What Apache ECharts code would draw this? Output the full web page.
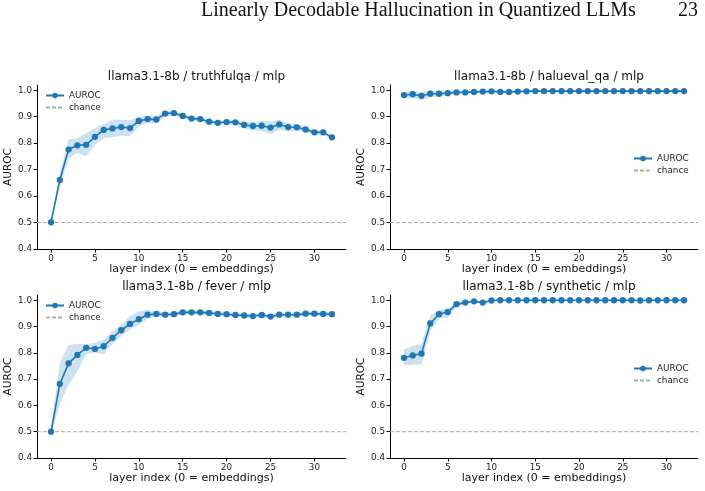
<!DOCTYPE html>
<html>
<head>
<meta charset="utf-8">
<script src="https://cdn.jsdelivr.net/npm/echarts@6/dist/echarts.min.js"></script>
<style>
  html, body { margin: 0; padding: 0; background: #fff; }
  #chart { width: 705px; height: 491px; }
</style>
</head>
<body>
<div id="chart"></div>
<script>
// layer index, 0 = embeddings
var layers = [0, 1, 2, 3, 4, 5, 6, 7, 8, 9, 10, 11, 12, 13, 14, 15, 16, 17, 18, 19, 20,
  21, 22, 23, 24, 25, 26, 27, 28, 29, 30, 31, 32]
var xTicks = [0, 5, 10, 15, 20, 25, 30]
var yTicks = [0.4, 0.5, 0.6, 0.7, 0.8, 0.9, 1.0]
var chanceLevel = 0.5

// truthfulqa
var tqaMean = [0.501, 0.661, 0.776, 0.792, 0.794, 0.824, 0.850, 0.856, 0.861, 0.857, 0.884, 0.891, 0.890,
  0.912, 0.914, 0.903, 0.893, 0.891, 0.881, 0.877, 0.880, 0.879, 0.869, 0.865, 0.866, 0.859, 0.871,
  0.861, 0.860, 0.852, 0.841, 0.841, 0.822]
var tqaHi = [0.505, 0.685, 0.815, 0.819, 0.838, 0.857, 0.872, 0.889, 0.889, 0.887, 0.901, 0.903, 0.903,
  0.922, 0.922, 0.911, 0.901, 0.899, 0.889, 0.885, 0.888, 0.889, 0.882, 0.880, 0.884, 0.882, 0.889,
  0.876, 0.872, 0.862, 0.849, 0.849, 0.828]
var tqaLo = [0.495, 0.637, 0.742, 0.763, 0.751, 0.794, 0.819, 0.822, 0.828, 0.827, 0.864, 0.876, 0.876,
  0.899, 0.905, 0.895, 0.885, 0.883, 0.873, 0.869, 0.872, 0.869, 0.856, 0.850, 0.846, 0.834, 0.851,
  0.846, 0.848, 0.842, 0.833, 0.833, 0.816]

// halueval_qa
var heMean = [0.982, 0.985, 0.979, 0.987, 0.987, 0.989, 0.992, 0.992, 0.994, 0.995, 0.996, 0.994, 0.994,
  0.995, 0.996, 0.997, 0.997, 0.997, 0.997, 0.997, 0.997, 0.997, 0.997, 0.997, 0.997, 0.997, 0.997,
  0.997, 0.997, 0.997, 0.997, 0.997, 0.997]
var heHi = [0.994, 0.997, 0.993, 0.999, 0.998, 0.997, 0.996, 0.995, 0.996, 0.997, 0.998, 0.996, 0.996,
  0.997, 0.998, 0.998, 0.998, 0.998, 0.998, 0.998, 0.998, 0.998, 0.998, 0.998, 0.998, 0.998, 0.998,
  0.998, 0.998, 0.998, 0.998, 0.998, 0.998]
var heLo = [0.968, 0.972, 0.963, 0.974, 0.976, 0.981, 0.988, 0.989, 0.992, 0.993, 0.994, 0.992, 0.992,
  0.993, 0.994, 0.996, 0.996, 0.996, 0.996, 0.996, 0.996, 0.996, 0.996, 0.996, 0.996, 0.996, 0.996,
  0.996, 0.996, 0.996, 0.996, 0.996, 0.996]

// fever
var fevMean = [0.500, 0.682, 0.760, 0.792, 0.819, 0.815, 0.825, 0.857, 0.886, 0.910, 0.928, 0.945, 0.948,
  0.945, 0.947, 0.954, 0.954, 0.954, 0.952, 0.948, 0.947, 0.944, 0.942, 0.940, 0.944, 0.938, 0.945,
  0.945, 0.945, 0.949, 0.949, 0.948, 0.947]
var fevHi = [0.512, 0.762, 0.831, 0.834, 0.834, 0.838, 0.850, 0.882, 0.907, 0.939, 0.958, 0.964, 0.958,
  0.954, 0.956, 0.962, 0.961, 0.961, 0.960, 0.956, 0.955, 0.952, 0.950, 0.948, 0.952, 0.947, 0.953,
  0.953, 0.953, 0.957, 0.957, 0.956, 0.955]
var fevLo = [0.488, 0.605, 0.680, 0.730, 0.795, 0.800, 0.795, 0.834, 0.863, 0.888, 0.907, 0.930, 0.938,
  0.936, 0.938, 0.946, 0.947, 0.947, 0.944, 0.940, 0.939, 0.936, 0.934, 0.932, 0.936, 0.929, 0.937,
  0.937, 0.937, 0.941, 0.941, 0.940, 0.939]

// synthetic
var synMean = [0.781, 0.790, 0.797, 0.912, 0.947, 0.955, 0.985, 0.991, 0.996, 0.991, 0.999, 1.000, 1.000,
  1.000, 1.000, 1.000, 1.000, 1.000, 1.000, 1.000, 1.000, 1.000, 1.000, 1.000, 1.000, 1.000, 1.000,
  0.999, 1.000, 1.000, 1.000, 1.000, 1.000]
var synHi = [0.813, 0.827, 0.833, 0.942, 0.963, 0.970, 0.991, 0.996, 0.999, 0.996, 1.000, 1.000, 1.000,
  1.000, 1.000, 1.000, 1.000, 1.000, 1.000, 1.000, 1.000, 1.000, 1.000, 1.000, 1.000, 1.000, 1.000,
  1.000, 1.000, 1.000, 1.000, 1.000, 1.000]
var synLo = [0.753, 0.755, 0.757, 0.881, 0.932, 0.934, 0.976, 0.986, 0.993, 0.986, 0.998, 0.999, 0.999,
  0.999, 0.999, 0.999, 0.999, 0.999, 0.999, 0.999, 0.999, 0.999, 0.999, 0.999, 0.999, 0.999, 0.999,
  0.998, 0.999, 0.999, 0.999, 0.999, 0.999]

var panelTitles = ['llama3.1-8b / truthfulqa / mlp', 'llama3.1-8b / halueval_qa / mlp',
  'llama3.1-8b / fever / mlp', 'llama3.1-8b / synthetic / mlp']
var means = [tqaMean, heMean, fevMean, synMean]
var his = [tqaHi, heHi, fevHi, synHi]
var los = [tqaLo, heLo, fevLo, synLo]

var font = 'DejaVu Sans'
var blue = '#1f77b4'

// axes boxes, matplotlib-like 2x2 layout
var grids = [
  {left: 37, top: 85, width: 309, height: 164},
  {left: 390, top: 85, width: 308, height: 164},
  {left: 37, top: 295, width: 309, height: 163},
  {left: 390, top: 295, width: 308, height: 163}
]
var legendPos = [
  {left: 45, top: 91},
  {left: 633, top: 154},
  {left: 45, top: 301},
  {left: 633, top: 364}
]

var xAxes = [], yAxes = [], titles = [], legends = [], series = []

grids.forEach(function (g, i) {
  xAxes.push({
    type: 'value', gridIndex: i, min: -1.6, max: 33.6,
    axisLine: {show: true, onZero: false, lineStyle: {color: '#000', width: 1}},
    axisTick: {show: true, length: 3.5, customValues: xTicks, lineStyle: {color: '#000'}},
    axisLabel: {customValues: xTicks, fontSize: 8.8, color: '#222', margin: 5, fontFamily: font},
    splitLine: {show: false},
    name: 'layer index (0 = embeddings)', nameLocation: 'middle', nameGap: 13,
    nameTextStyle: {fontSize: 11, color: '#111', fontFamily: font}
  })
  yAxes.push({
    type: 'value', gridIndex: i, min: 0.4, max: 1.02,
    axisLine: {show: true, onZero: false, lineStyle: {color: '#000', width: 1}},
    axisTick: {show: true, length: 3.5, customValues: yTicks, lineStyle: {color: '#000'}},
    axisLabel: {
      customValues: yTicks, fontSize: 8.8, color: '#222', margin: 5, fontFamily: font,
      formatter: function (v) { return v.toFixed(1) }
    },
    splitLine: {show: false},
    name: 'AUROC', nameLocation: 'middle', nameGap: 22,
    nameTextStyle: {fontSize: 10.5, color: '#111', fontFamily: font}
  })
  titles.push({
    text: panelTitles[i], left: g.left + g.width / 2, top: g.top - 19, textAlign: 'center',
    textStyle: {fontSize: 12, fontWeight: 'normal', color: '#111', fontFamily: font}
  })
  legends.push({
    left: legendPos[i].left, top: legendPos[i].top, orient: 'vertical', padding: 0,
    itemGap: 3, itemWidth: 18, itemHeight: 7,
    data: [{name: 'AUROC'}, {name: 'chance', itemStyle: {opacity: 0}}],
    selectedMode: false, textStyle: {fontSize: 8.8, color: '#222', fontFamily: font}
  })

  // std band
  var lo = los[i], hi = his[i]
  series.push({
    type: 'custom', name: 'band' + i, xAxisIndex: i, yAxisIndex: i, silent: true, z: 1,
    data: layers.map(function (x, k) { return [x, lo[k], hi[k]] }),
    encode: {x: 0, y: [1, 2]},
    renderItem: function (params, api) {
      if (params.dataIndex !== 0) return null
      var top = [], bot = []
      for (var k = 0; k < layers.length; k++) {
        top.push(api.coord([layers[k], hi[k]]))
        bot.unshift(api.coord([layers[k], lo[k]]))
      }
      return {type: 'polygon', shape: {points: top.concat(bot)}, style: {fill: 'rgba(31,119,180,0.22)'}}
    }
  })
  series.push({
    type: 'line', name: 'chance', xAxisIndex: i, yAxisIndex: i, z: 2,
    data: [[-1.6, chanceLevel], [33.6, chanceLevel]],
    symbol: 'none', silent: true,
    lineStyle: {color: '#aaaaaa', width: 1, type: [4, 2]},
    itemStyle: {color: '#aaaaaa', opacity: 0}
  })
  series.push({
    type: 'line', name: 'AUROC', xAxisIndex: i, yAxisIndex: i, z: 3,
    data: layers.map(function (x, k) { return [x, means[i][k]] }),
    symbol: 'circle', symbolSize: 6.3, showAllSymbol: true,
    lineStyle: {color: blue, width: 1.6},
    itemStyle: {color: blue}
  })
})

var myChart = echarts.init(document.getElementById('chart'))
var option = {
  animation: false,
  backgroundColor: '#fff',
  title: titles,
  legend: legends,
  grid: grids,
  xAxis: xAxes,
  yAxis: yAxes,
  series: series,
  graphic: [
    {type: 'text', left: 201, top: 1, style: {text: 'Linearly Decodable Hallucination in Quantized LLMs',
      fontSize: 20, fontFamily: 'Liberation Serif', fill: '#111'}},
    {type: 'text', left: 678, top: 1, style: {text: '23', fontSize: 20, fontFamily: 'Liberation Serif', fill: '#111'}}
  ]
}
myChart.setOption(option)
</script>
</body>
</html>
